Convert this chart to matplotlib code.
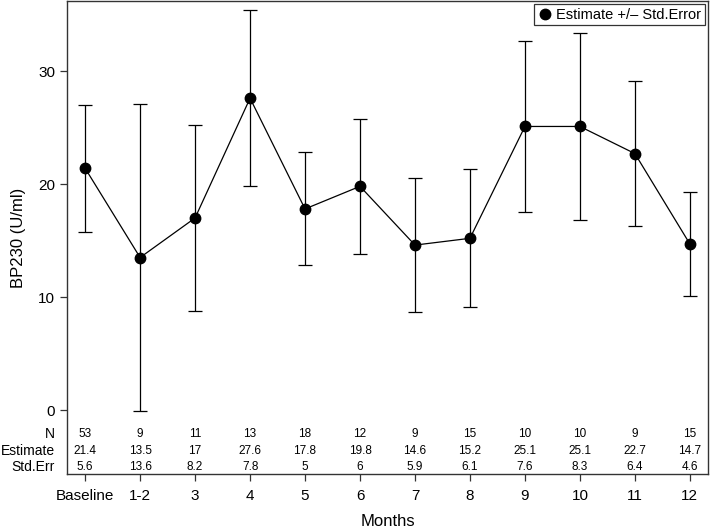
import matplotlib.pyplot as plt
import matplotlib.transforms as mtransforms
from matplotlib.lines import Line2D

plt.rcParams['font.family'] = ['Liberation Sans', 'DejaVu Sans']

months = ['Baseline', '1-2', '3', '4', '5', '6', '7', '8', '9', '10', '11', '12']
n_obs = [53, 9, 11, 13, 18, 12, 9, 15, 10, 10, 9, 15]
estimate = [21.4, 13.5, 17, 27.6, 17.8, 19.8, 14.6, 15.2, 25.1, 25.1, 22.7, 14.7]
std_err = [5.6, 13.6, 8.2, 7.8, 5, 6, 5.9, 6.1, 7.6, 8.3, 6.4, 4.6]

fig = plt.figure(figsize=(7.11, 5.28), dpi=100)
ax = fig.add_axes([0.0942, 0.1023, 0.9016, 0.8957])

x = list(range(len(months)))
ax.errorbar(x, estimate, yerr=std_err, fmt='none', ecolor='black',
            elinewidth=0.9, capsize=5, capthick=0.9)
ax.plot(x, estimate, color='black', linewidth=0.9, marker='o',
        markersize=7.5, markerfacecolor='black')

ax.set_xlim(-0.33, 11.33)
ax.set_ylim(-5.66, 36.2)
ax.set_yticks([0, 10, 20, 30])
ax.set_xticks(x)
ax.set_xticklabels(months)
ax.tick_params(axis='both', direction='out', length=5, width=0.9,
               labelsize=11, color='#333333')
ax.tick_params(axis='x', pad=6)

for side in ['top', 'right', 'bottom', 'left']:
    ax.spines[side].set_color('#333333')
    ax.spines[side].set_linewidth(1.0)

ax.set_ylabel('BP230 (U/ml)', fontsize=12, labelpad=9)
ax.set_xlabel('Months', fontsize=12, labelpad=8)

# table inside the axes
trans = mtransforms.blended_transform_factory(ax.transData, ax.transAxes)
rows = [('N', n_obs, 0.085), ('Estimate', estimate, 0.049), ('Std.Err', std_err, 0.015)]
for label, vals, yy in rows:
    ax.text(-0.019, yy, label, transform=ax.transAxes, ha='right', va='center',
            fontsize=10, clip_on=False)
    for i, v in enumerate(vals):
        ax.text(i, yy, str(v), transform=trans, ha='center', va='center', fontsize=8.5)

handle = Line2D([], [], color='black', marker='o', linestyle='none', markersize=7.5)
leg = ax.legend([handle], ['Estimate +/\u2013 Std.Error'], loc='upper right',
                fontsize=10.5, frameon=True, fancybox=False, borderaxespad=0.2,
                handletextpad=0.3, borderpad=0.25, handlelength=1.0)
leg.get_frame().set_edgecolor('black')
leg.get_frame().set_linewidth(0.9)

fig.savefig('out.png', dpi=100)
